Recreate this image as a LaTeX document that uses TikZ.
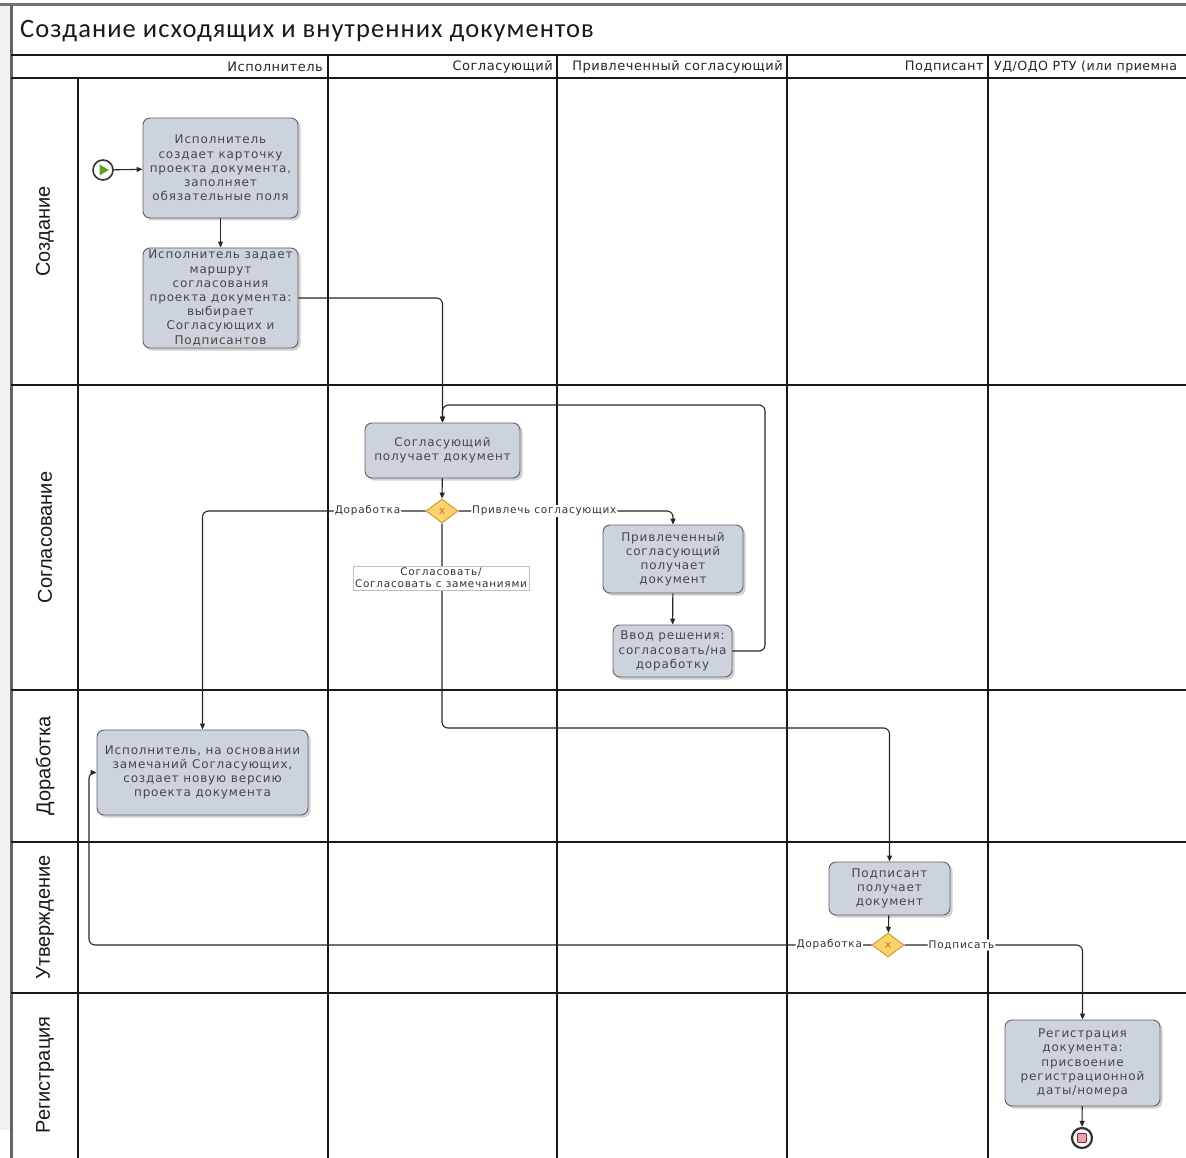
\documentclass[tikz,border=0pt]{standalone}
\usepackage{fontspec}
\setmainfont{DejaVu Sans}
\newfontfamily\titlefont[LetterSpace=4]{Carlito}
\newfontfamily\lanefont{Liberation Sans}
\newfontfamily\taskfont[LetterSpace=7]{DejaVu Sans}
\newfontfamily\lblfont[LetterSpace=7]{DejaVu Sans}
\newfontfamily\hdrfont[LetterSpace=4]{DejaVu Sans}
\usetikzlibrary{shapes.geometric,arrows.meta,shadows}
\definecolor{taskfill}{HTML}{CDD3DC}
\definecolor{taskline}{HTML}{5E6268}
\definecolor{gwfill}{HTML}{F9D36C}
\definecolor{gwline}{HTML}{D49A2E}
\definecolor{gwx}{HTML}{E0701C}
\definecolor{startgreen}{HTML}{5FA030}
\definecolor{endfill}{HTML}{EBA3AC}
\definecolor{endline}{HTML}{8C2233}
\definecolor{sidegray}{HTML}{F1F1F1}
\tikzset{
  task/.style={draw=taskline, line width=0.9pt, fill=taskfill, rounded corners=7pt, align=center,
    font=\taskfont\fontsize{12}{14.2}\selectfont, text=black!72, inner sep=1pt,
    drop shadow={shadow xshift=2.5pt, shadow yshift=-2.5pt, fill=black!30, opacity=0.6}},
  gateway/.style={diamond, draw=gwline, line width=1pt, fill=gwfill, inner sep=0pt, minimum width=32pt,
    minimum height=24pt, font=\fontsize{11}{11}\selectfont, text=gwx},
  startev/.style={circle, draw=black!80, line width=1.6pt, fill=white, minimum size=20pt, inner sep=0pt},
  endev/.style={circle, draw=black!80, line width=2.2pt, fill=white, minimum size=20pt, inner sep=0pt},
  flow/.style={draw=black!85, line width=1.1pt, rounded corners=6pt, -{Triangle[length=6pt,width=5pt]}},
  flowlbl/.style={fill=white, inner sep=1pt, font=\lblfont\fontsize{10.5}{12}\selectfont, text=black!80},
  lanelbl/.style={rotate=90, font=\lanefont\fontsize{20}{20}\selectfont, text=black!90},
  colhdr/.style={font=\hdrfont\fontsize{13}{13}\selectfont, text=black!85, inner sep=0pt},
  rowline/.style={draw=black!90, line width=1.8pt},
  colline/.style={draw=black!90, line width=1.3pt},
}
\begin{document}
\begin{tikzpicture}[x=1pt, y=-1pt]
\useasboundingbox (0,0) rectangle (1186,1158);
\fill[white] (0,0) rectangle (1186,1158);
\fill[sidegray] (0,5) rectangle (11,1130);
% frame
\draw[draw=black!55, line width=3pt] (0,5) -- (1186,5);
\draw[draw=black!60, line width=3pt] (11,5) -- (11,1158);
\node[anchor=base west, inner sep=0pt, font=\titlefont\fontsize{26.5}{26.5}\selectfont, text=black!90] (title) at (20,38) {Создание исходящих и внутренних документов};
% header/rows
\draw[rowline] (11,55) -- (1186,55);
\draw[rowline] (11,78) -- (1186,78);
\foreach \yy in {385,690,842,993} { \draw[rowline] (11,\yy) -- (1186,\yy); }
\draw[colline] (78,78) -- (78,1158);
\foreach \xx in {328,557,787,988} { \draw[colline] (\xx,55) -- (\xx,1158); }
% column headers
\node[colhdr, anchor=east] (h1) at (323,67) {Исполнитель};
\node[colhdr, anchor=east] (h2) at (553,67) {Согласующий};
\node[colhdr, anchor=east] (h3) at (783,67) {Привлеченный согласующий};
\node[colhdr, anchor=east] (h4) at (984,67) {Подписант};
\node[colhdr, anchor=west, font=\hdrfont\fontsize{12.6}{12.6}\selectfont] (h5) at (994,67) {УД/ОДО РТУ (или приемна};
% lane labels
\node[lanelbl] (l1) at (45,231.5) {Создание};
\node[lanelbl] (l2) at (45,537.5) {Согласование};
\node[lanelbl] (l3) at (45,766) {Доработка};
\node[lanelbl] (l4) at (45,917.5) {Утверждение};
\node[lanelbl] (l5) at (45,1075) {Регистрация};
% events
\node[startev] (start) at (103,170) {};
\fill[startgreen] ([xshift=-3.5pt,yshift=5.5pt]start.center) -- ([xshift=-3.5pt,yshift=-5.5pt]start.center) -- ([xshift=6pt]start.center) -- cycle;
\node[endev] (end) at (1082,1138) {};
\filldraw[fill=endfill, draw=endline, line width=0.8pt, rounded corners=1pt] ([xshift=-4.5pt,yshift=-4.5pt]end.center) rectangle ([xshift=4.5pt,yshift=4.5pt]end.center);
% tasks
\node[task, minimum width=155pt, minimum height=100pt] (t1) at (220.5,168) {Исполнитель\\создает карточку\\проекта документа,\\заполняет\\обязательные поля};
\node[task, minimum width=155pt, minimum height=100pt] (t2) at (220.5,298) {Исполнитель задает\\маршрут\\согласования\\проекта документа:\\выбирает\\Согласующих и\\Подписантов};
\node[task, minimum width=155pt, minimum height=55pt] (t3) at (442.5,450.5) {Согласующий\\получает документ};
\node[task, minimum width=140pt, minimum height=68pt] (t4) at (673,559) {Привлеченный\\согласующий\\получает\\документ};
\node[task, minimum width=119pt, minimum height=52pt] (t7) at (672.5,651) {Ввод решения:\\согласовать/на\\доработку};
\node[task, minimum width=211pt, minimum height=85pt] (t5) at (202.5,772.5) {Исполнитель, на основании\\замечаний Согласующих,\\создает новую версию\\проекта документа};
\node[task, minimum width=121pt, minimum height=53pt] (t6) at (889.5,888.5) {Подписант\\получает\\документ};
\node[task, minimum width=155pt, minimum height=86pt] (t8) at (1082.5,1063) {Регистрация\\документа:\\присвоение\\регистрационной\\даты/номера};
% gateways
\node[gateway] (g1) at (442,511) {x};
\node[gateway] (g2) at (888,945) {x};
% helper coordinates
\coordinate (lp) at (765,405);
\coordinate (c1) at (442,728);
\coordinate (c2) at (89,945);
% flows
\draw[flow] (start) -- (t1);
\draw[flow] (t1) -- (t2);
\draw[flow] (t2.east) -| (t3.north);
\draw[flow] (t7.east) -| (lp) -| (t3.north);
\draw[flow] (t3) -- (g1);
\draw[flow] (g1.west) -| node[flowlbl, pos=0.13] (lb1) {Доработка} (t5.north);
\draw[flow] (g1.east) -| node[flowlbl, pos=0.2] (lb2) {Привлечь согласующих} (t4.north);
\draw[flow] (g1.south) -- (c1) -| (t6.north);
\node[flowlbl, draw=black!25, line width=0.6pt, align=center, inner sep=2pt] (lb3) at (441,578) {Согласовать/\\Согласовать с замечаниями};
\draw[flow] (t4) -- (t7);
\draw[flow] (t6) -- (g2);
\draw[flow] (g2.west) -- node[flowlbl, pos=0.054] (lb4) {Доработка} (c2) |- (t5.west);
\draw[flow] (g2.east) -| node[flowlbl, pos=0.16] (lb5) {Подписать} (t8.north);
\draw[flow] (t8) -- (end);
\end{tikzpicture}
\end{document}
